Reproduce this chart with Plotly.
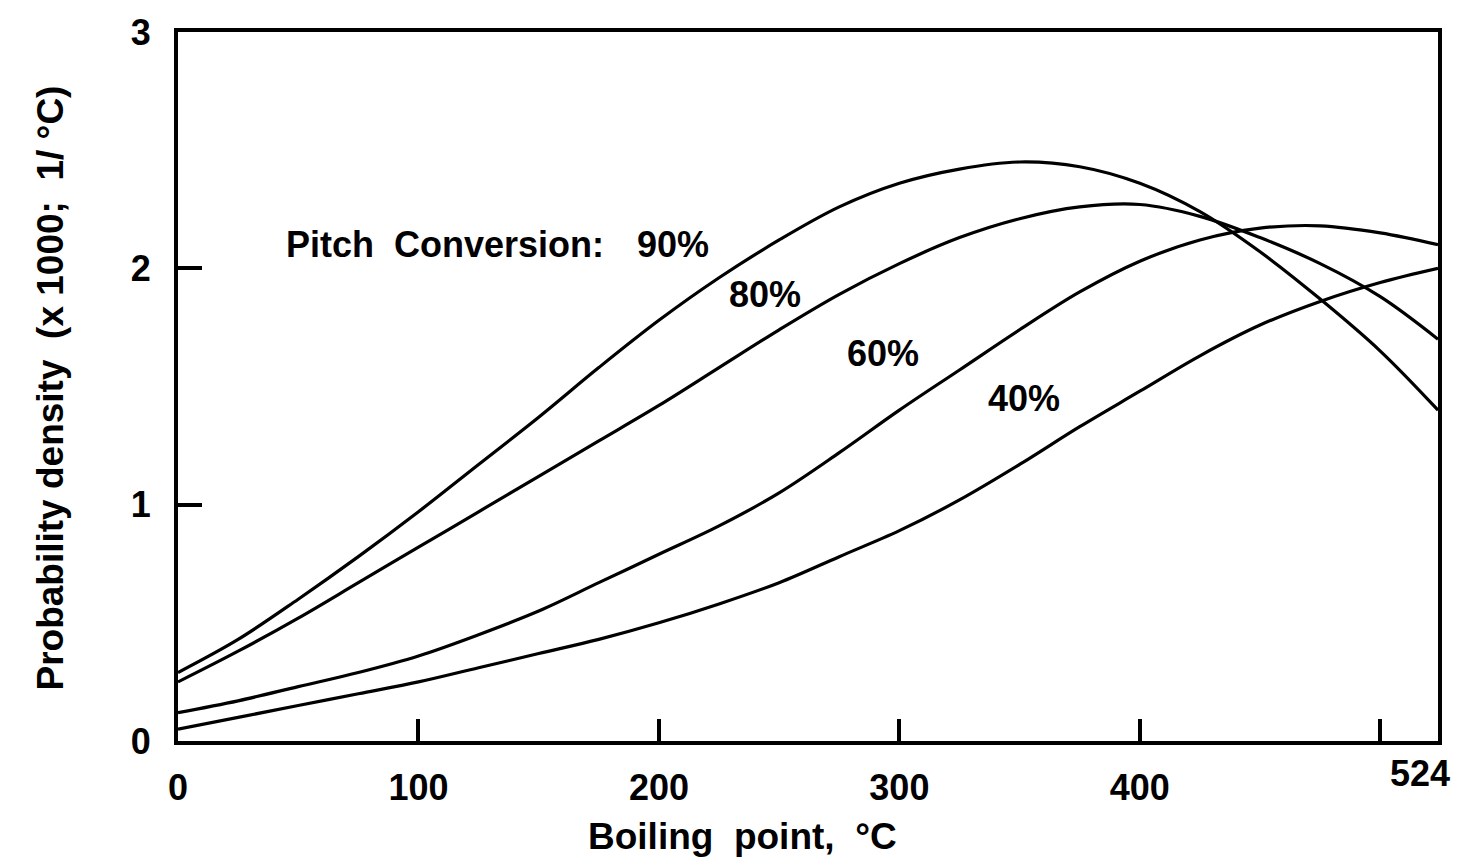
import plotly.graph_objects as go

boiling_point = [0, 25, 50, 75, 100, 125, 150, 175, 200, 225, 250, 275,
                 300, 325, 350, 375, 400, 425, 450, 475, 500, 524]

density_90 = [0.29, 0.43, 0.60, 0.78, 0.97, 1.17, 1.37, 1.58, 1.78, 1.96, 2.12, 2.26,
              2.36, 2.42, 2.45, 2.43, 2.36, 2.24, 2.07, 1.87, 1.65, 1.40]
density_80 = [0.25, 0.38, 0.52, 0.67, 0.82, 0.97, 1.12, 1.27, 1.42, 1.58, 1.74, 1.89,
              2.02, 2.13, 2.21, 2.26, 2.27, 2.22, 2.13, 2.02, 1.88, 1.70]
density_60 = [0.12, 0.17, 0.23, 0.29, 0.36, 0.45, 0.55, 0.67, 0.79, 0.91, 1.05, 1.22,
              1.40, 1.57, 1.74, 1.90, 2.03, 2.12, 2.17, 2.18, 2.15, 2.10]
density_40 = [0.05, 0.10, 0.15, 0.20, 0.25, 0.31, 0.37, 0.43, 0.50, 0.58, 0.67, 0.78,
              0.89, 1.02, 1.17, 1.33, 1.48, 1.63, 1.76, 1.86, 1.94, 2.00]

series = [("90%", density_90), ("80%", density_80), ("60%", density_60), ("40%", density_40)]

x_tickvals = [0, 100, 200, 300, 400, 500]
x_ticktext = ["0", "100", "200", "300", "400", ""]
y_tickvals = [0, 1, 2, 3]
y_ticktext = ["0", "1", "2", "3"]

# curve label positions (data coords)
label_text = ["90%", "80%", "60%", "40%"]
label_x = [206, 244, 293, 352]
label_y = [2.10, 1.89, 1.64, 1.45]

FONT = "Liberation Sans"
FS = 36
FT = 37

def bold(size):
    return dict(family=FONT, size=size, color="black", weight="bold")

fig = go.Figure()
for name, ys in series:
    fig.add_trace(go.Scatter(
        x=boiling_point, y=ys, mode="lines", name=name,
        line=dict(color="black", width=3.2, shape="spline", smoothing=1.0),
        showlegend=False, hoverinfo="skip"))

fig.update_layout(
    width=1483, height=861,
    margin=dict(l=178, r=45, t=30, b=120),
    paper_bgcolor="white", plot_bgcolor="white",
    font=dict(family=FONT, size=FS, color="black"),
    xaxis=dict(range=[0, 524], tickvals=x_tickvals, ticktext=x_ticktext,
               ticks="inside", ticklen=22, tickwidth=4, tickcolor="black",
               showline=True, linecolor="black", linewidth=4, mirror=True,
               showgrid=False, zeroline=False, ticklabelstandoff=12,
               tickfont=bold(FS)),
    yaxis=dict(range=[0, 3], tickvals=y_tickvals, ticktext=y_ticktext,
               ticks="inside", ticklen=24, tickwidth=4, tickcolor="black",
               showline=True, linecolor="black", linewidth=4, mirror=True,
               showgrid=False, zeroline=False, ticklabelstandoff=16,
               tickfont=bold(FS)),
)

annotations = []
annotations.append(dict(x=44, y=2.10, xref="x", yref="y", text="Pitch  Conversion:",
                        showarrow=False, xanchor="left", yanchor="middle", font=bold(FS)))
for t, lx, ly in zip(label_text, label_x, label_y):
    annotations.append(dict(x=lx, y=ly, xref="x", yref="y", text=t, showarrow=False,
                            xanchor="center", yanchor="middle", font=bold(FS)))
# 524 end label (raised slightly)
annotations.append(dict(x=524, y=0, xref="x", yref="paper", text="524", showarrow=False,
                        xanchor="center", yanchor="top", yshift=-10, xshift=-18,
                        font=bold(FS)))
# axis titles
annotations.append(dict(x=0.5, y=0, xref="paper", yref="paper", text="Boiling  point,  °C",
                        showarrow=False, xanchor="center", yanchor="middle", yshift=-95,
                        xshift=-66, font=bold(FT)))
annotations.append(dict(x=0, y=0.5, xref="paper", yref="paper",
                        text="Probability density  (x 1000;  1/ °C)",
                        showarrow=False, textangle=-90, xanchor="center", yanchor="middle",
                        xshift=-128, yshift=-2, font=bold(FT)))
fig.update_layout(annotations=annotations)

fig.write_html("out.html")
